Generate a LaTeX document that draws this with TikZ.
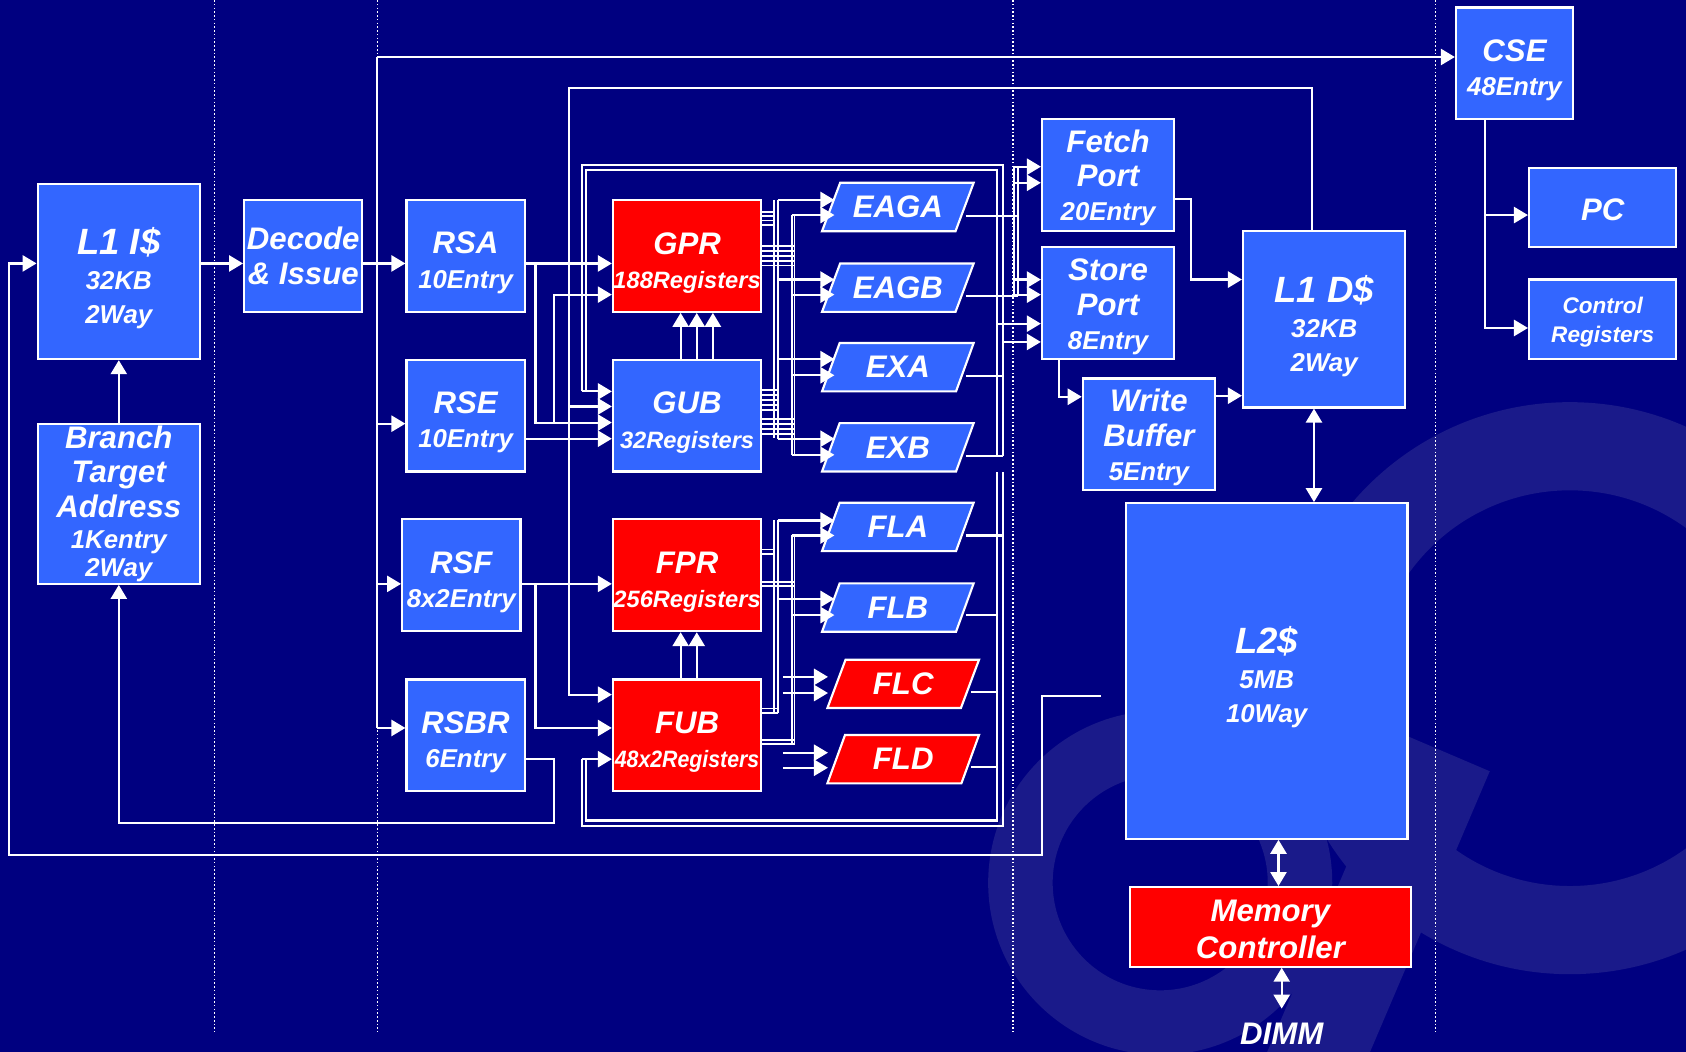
\documentclass[tikz,border=0pt]{standalone}
\usepackage{fontspec}
\setmainfont{Liberation Sans}
\usepackage{graphicx}
\usetikzlibrary{arrows.meta,shapes.geometric,positioning}

\definecolor{navy}{RGB}{0,0,128}
\definecolor{ringc}{RGB}{26,26,138}
\definecolor{boxblue}{RGB}{51,102,255}
\definecolor{boxred}{RGB}{255,0,0}

\newcommand{\bigt}[1]{{\fontsize{34}{38}\selectfont #1}}
\newcommand{\midt}[1]{{\fontsize{29}{33}\selectfont #1}}
\newcommand{\regt}[1]{{\fontsize{22}{30}\selectfont #1}}
\newcommand{\lift}[1]{\rule{0pt}{#1}}

\tikzset{
  unit/.style={draw=white, line width=2pt, fill=boxblue, text=white, align=center,
    inner sep=0pt, font=\fontsize{24}{32}\selectfont\bfseries\itshape},
  regs/.style={unit, fill=boxred},
  alu/.style={trapezium, trapezium left angle=50.6, trapezium right angle=129.4,
    trapezium stretches body, draw=white, line width=2pt, fill=boxblue, text=white,
    inner sep=0pt, minimum height=45pt, minimum width=141pt,
    font=\fontsize{29}{33}\selectfont\bfseries\itshape},
  fpu/.style={alu, fill=boxred},
  wire/.style={white, line width=2pt},
  lad/.style={white, line width=1.6pt},
  arr/.style={wire, -{Triangle[length=13pt,width=15pt]}},
  darr/.style={wire, {Triangle[length=13pt,width=15pt]}-{Triangle[length=13pt,width=15pt]}},
  divider/.style={white, line width=1.2pt, dash pattern=on 1.5pt off 2pt},
}

\begin{document}
\begin{tikzpicture}[x=1pt, y=-1pt]
    \useasboundingbox (0,0) rectangle (1568,978);
    \fill[navy] (0,0) rectangle (1568,978);
    % background logo
    \begin{scope}
        \clip (0,0) rectangle (1568,978);
        \draw[ringc, line width=60pt] (1079,821) circle[radius=130pt];
        \draw[ringc, line width=82pt] (1460,640) circle[radius=225pt];
        \draw[ringc, line width=88pt] (1200,1040) -- (1345,700);
    \end{scope}
    \foreach \x in {199.5,351,942,1335}
        \draw[divider] (\x,0) -- (\x,960);

    % front end
    \node[unit, minimum width=151pt, minimum height=163pt] (l1i) at (110.5,252.5) {\lift{38pt}\bigt{L1 I\$}\\32KB\\2Way};
    \node[unit, minimum width=151pt, minimum height=149pt] (bta) at (110.5,468.5) {\midt{Branch}\\\midt{Target}\\\midt{Address}\\[-3pt]1Kentry\\[-6pt]2Way};
    \node[unit, minimum width=110pt, minimum height=104pt] (dec) at (282,238) {\midt{Decode}\\\midt{\& Issue}};

    % reservation stations
    \node[unit, minimum width=110pt, minimum height=104pt] (rsa) at (433,238) {\lift{33pt}\midt{RSA}\\10Entry};
    \node[unit, minimum width=110pt, minimum height=104pt] (rse) at (433,386.5) {\lift{33pt}\midt{RSE}\\10Entry};
    \node[unit, minimum width=110pt, minimum height=104pt] (rsf) at (429,535) {\lift{33pt}\midt{RSF}\\8x2Entry};
    \node[unit, minimum width=110pt, minimum height=104pt] (rsbr) at (433,684) {\lift{33pt}\midt{RSBR}\\6Entry};

    % register files
    \node[regs, minimum width=138pt, minimum height=104pt] (gpr) at (639,238) {\lift{33pt}\midt{GPR}\\\regt{188Registers}};
    \node[unit, minimum width=138pt, minimum height=104pt] (gub) at (639,386.5) {\lift{33pt}\midt{GUB}\\\regt{32Registers}};
    \node[regs, minimum width=138pt, minimum height=104pt] (fpr) at (639,535) {\lift{33pt}\midt{FPR}\\\regt{256Registers}};
    \node[regs, minimum width=138pt, minimum height=104pt] (fub) at (639,684) {\lift{33pt}\midt{FUB}\\\regt{\scalebox{0.9}[1]{48x2Registers}}};

    % execution units
    \node[alu] (eaga) at (835,192.5) {EAGA};
    \node[alu] (eagb) at (835,267.5) {EAGB};
    \node[alu] (exa) at (835,341.5) {EXA};
    \node[alu] (exb) at (835,416) {EXB};
    \node[alu] (fla) at (835,490) {FLA};
    \node[alu] (flb) at (835,565) {FLB};
    \node[fpu] (flc) at (840,636) {FLC};
    \node[fpu] (fld) at (840,706) {FLD};

    % memory side
    \node[unit, minimum width=123pt, minimum height=104pt] (fetch) at (1030.5,163) {\lift{26pt}\midt{Fetch}\\\midt{Port}\\20Entry};
    \node[unit, minimum width=123pt, minimum height=104pt] (store) at (1030.5,282) {\lift{27pt}\midt{Store}\\\midt{Port}\\8Entry};
    \node[unit, minimum width=123pt, minimum height=104pt] (wbuf) at (1068.5,404) {\lift{27pt}\midt{Write}\\\midt{Buffer}\\5Entry};
    \node[unit, minimum width=151pt, minimum height=164pt] (l1d) at (1231.5,297) {\lift{38pt}\bigt{L1 D\$}\\32KB\\2Way};
    \node[unit, minimum width=262pt, minimum height=312pt] (l2) at (1178,624) {\lift{37pt}\bigt{L2\$}\\5MB\\10Way};
    \node[regs, minimum width=261pt, minimum height=74pt] (mc) at (1181.5,862) {\lift{25pt}\midt{Memory}\\[3pt]\midt{Controller}};
    \node[text=white, inner sep=1pt, font=\fontsize{29}{33}\selectfont\bfseries\itshape] (dimm) at (1192,961) {DIMM};
    \coordinate (dimmtop) at (1192,938);

    % commit side
    \node[unit, minimum width=109pt, minimum height=104pt] (cse) at (1408.5,59) {\lift{33pt}\midt{CSE}\\48Entry};
    \node[unit, minimum width=137pt, minimum height=74pt] (pc) at (1490.5,193) {\lift{25pt}\midt{PC}};
    \node[unit, minimum width=137pt, minimum height=74pt, font=\fontsize{21}{27}\selectfont\bfseries\itshape] (creg) at (1490.5,297) {\lift{21pt}Control\\Registers};

    % fetch and issue
    \draw[arr] (l1i.east |- 0,245) -- (dec.west |- 0,245);
    \draw[arr] (dec.east |- 0,245) -- (rsa.west |- 0,245);
    \draw[arr] (bta.north) -- (l1i.south);
    \draw[wire] (351,53) -- (351,677);
    \draw[arr] (351,53) -- (cse.west |- 0,53);
    \draw[arr] (351,394) -- (rse.west |- 0,394);
    \draw[arr] (351,543) -- (rsf.west |- 0,543);
    \draw[arr] (351,677) -- (rsbr.west |- 0,677);
    \draw[arr] (rsbr.east |- 0,706) -| (515,765) -| (bta.south);
    \draw[arr] (1024,647) -- (969,647) |- (8,795) |- (l1i.west |- 0,245);

    % operands to register files
    \draw[arr] (l1d.north -| 1220,0) |- (529,82) |- (fub.west |- 0,646);
    \draw[arr] (529,378) -- (gub.west |- 0,378);
    \draw[arr] (rsa.east |- 0,245) -- (gpr.west |- 0,245);
    \draw[arr] (498,245) |- (gub.west |- 0,393);
    \draw[arr] (515,393) |- (gpr.west |- 0,274);
    \draw[arr] (rse.east |- 0,408) -- (gub.west |- 0,408);
    \draw[arr] (rsf.east |- 0,543) -- (fpr.west |- 0,543);
    \draw[arr] (498,543) |- (fub.west |- 0,677);
    \foreach \x in {633,648,663}
        \draw[arr] (gub.north -| \x,0) -- (gpr.south -| \x,0);
    \foreach \x in {633,648}
        \draw[arr] (fub.north -| \x,0) -- (fpr.south -| \x,0);

    % integer operand ladder
    \foreach \y in {197,201,205,209}
        \draw[lad] (gpr.east |- 0,\y) -- (720,\y);
    \foreach \y in {229,233.5,238,242.5,247}
        \draw[lad] (gpr.east |- 0,\y) -- (739,\y);
    \foreach \y in {363,367.5,372,376.5,381}
        \draw[lad] (gub.east |- 0,\y) -- (723.5,\y);
    \foreach \y in {390,394.5,399,403.5}
        \draw[lad] (gub.east |- 0,\y) -- (739,\y);
    \draw[lad] (720,186) -- (720,407);
    \draw[lad] (723.5,186) -- (723.5,408);
    \draw[lad] (736.5,200) -- (736.5,423);
    \draw[lad] (739,200) -- (739,423);
    \foreach \ya/\yb in {186/200, 260/274, 334/349, 408/423} {
        \draw[arr] (723.5,\ya) -- (776,\ya);
        \draw[arr] (736.5,\yb) -- (776,\yb);
    }

    % floating point operand ladder
    \foreach \y in {511,515}
        \draw[lad] (fpr.east |- 0,\y) -- (720,\y);
    \foreach \y in {541,545}
        \draw[lad] (fpr.east |- 0,\y) -- (739,\y);
    \foreach \y in {659,663}
        \draw[lad] (fub.east |- 0,\y) -- (723.5,\y);
    \foreach \y in {688,692}
        \draw[lad] (fub.east |- 0,\y) -- (739,\y);
    \draw[lad] (720,484) -- (720,663);
    \draw[lad] (723.5,484) -- (723.5,663);
    \draw[lad] (736.5,498) -- (736.5,692);
    \draw[lad] (739,498) -- (739,692);
    \foreach \ya/\yb in {484/498, 557/572} {
        \draw[arr] (723.5,\ya) -- (776,\ya);
        \draw[arr] (736.5,\yb) -- (776,\yb);
    }
    \foreach \y in {629.5,644.5,700,714}
        \draw[arr] (728,\y) -- (770,\y);

    % result buses
    \draw[wire] (541,364) -- (541,153.5) -- (933,153.5) -- (933,424);
    \draw[wire] (545,364) -- (545,158) -- (927,158) -- (927,424);
    \draw[arr] (541,364) -- (gub.west |- 0,364);
    \draw[wire] (541,706) -- (541,768) -- (933,768) -- (933,439);
    \draw[wire] (545,706) -- (545,763) -- (927,763) -- (927,439);
    \draw[arr] (541,706) -- (fub.west |- 0,706);
    \draw[wire] (eaga.east |- 0,201) -- (947,201);
    \draw[wire] (eagb.east |- 0,275) -- (947,275);
    \draw[wire] (exa.east |- 0,350) -- (933,350);
    \draw[wire] (exb.east |- 0,424) -- (933,424);
    \draw[wire] (fla.east |- 0,498) -- (933,498);
    \draw[wire] (flb.east |- 0,572) -- (927,572);
    \draw[wire] (flc.east |- 0,643.5) -- (927,643.5);
    \draw[wire] (fld.east |- 0,713.5) -- (927,713.5);

    % load / store
    \draw[wire] (943,155) -- (943,275);
    \draw[wire] (947,155) -- (947,275);
    \foreach \y in {155,170}
        \draw[arr] (943,\y) -- (fetch.west |- 0,\y);
    \foreach \y in {260,274}
        \draw[arr] (943,\y) -- (store.west |- 0,\y);
    \draw[arr] (927,301) -- (store.west |- 0,301);
    \draw[arr] (933,318) -- (store.west |- 0,318);
    \draw[arr] (fetch.east |- 0,185) -| (1108,260) -- (l1d.west |- 0,260);
    \draw[arr] (store.south -| 985,0) |- (wbuf.west |- 0,369);
    \draw[arr] (wbuf.east |- 0,368) -- (l1d.west |- 0,368);
    \draw[darr] (l1d.south -| 1222,0) -- (l2.north -| 1222,0);
    \draw[darr] (l2.south -| 1189,0) -- (mc.north -| 1189,0);
    \draw[darr] (mc.south -| 1192,0) -- (dimmtop);

    % commit
    \draw[arr] (cse.south -| 1381,0) |- (creg.west |- 0,305);
    \draw[arr] (1381,200) -- (pc.west |- 0,200);
\end{tikzpicture}
\end{document}
